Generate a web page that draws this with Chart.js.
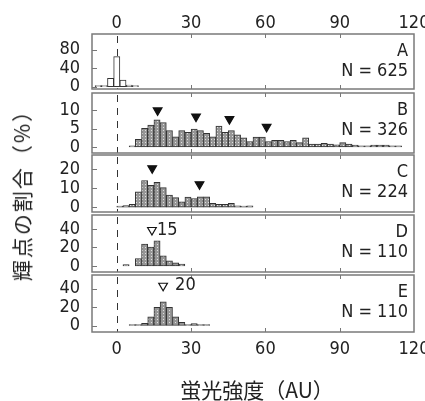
<!DOCTYPE html>
<html lang="ja">
<head>
<meta charset="UTF-8">
<title>蛍光強度の分布</title>
<script src="https://cdn.jsdelivr.net/npm/chart.js"></script>
<style>
  html, body { margin: 0; padding: 0; background: #fff; }
  #wrap { position: relative; width: 425px; height: 401px; overflow: hidden; }
  #wrap canvas { position: absolute; left: 0; top: 0; }
  .title {
    position: absolute;
    font-family: "Noto Sans CJK JP", sans-serif;
    font-size: 21px;
    color: #222;
    white-space: nowrap;
    transform: translate(-50%, -50%);
  }
  #ytitle { left: 21px; top: 190px; letter-spacing: 2px; transform: translate(-50%, -50%) rotate(-90deg); }
  #xtitle { left: 257px; top: 389px; }
</style>
</head>
<body>
<div id="wrap">
  <canvas id="pA" width="425" height="401"></canvas>
  <canvas id="pB" width="425" height="401"></canvas>
  <canvas id="pC" width="425" height="401"></canvas>
  <canvas id="pD" width="425" height="401"></canvas>
  <canvas id="pE" width="425" height="401"></canvas>
  <div class="title" id="ytitle">輝点の割合（%）</div>
  <div class="title" id="xtitle">蛍光強度（AU）</div>
</div>
<script>
// x軸の目盛り
const xTicks = [0, 30, 60, 90, 120];

// A (N = 625) ビン中心と割合(%)
const binsA = [-7.5, -5, -2.5, 0, 2.5, 5, 7.5];
const pctA = [0.3, 0.3, 18, 65, 14.5, 3.7, 0.8];
const yTicksA = [0, 40, 80];

// B (N = 326)
const binsB = [6.25, 8.75, 11.25, 13.75, 16.25, 18.75, 21.25, 23.75, 26.25, 28.75,
  31.25, 33.75, 36.25, 38.75, 41.25, 43.75, 46.25, 48.75, 51.25, 53.75,
  56.25, 58.75, 61.25, 63.75, 66.25, 68.75, 71.25, 73.75, 76.25, 78.75,
  81.25, 83.75, 86.25, 88.75, 91.25, 93.75, 96.25, 98.75, 101.25, 103.75,
  106.25, 108.75, 111.25, 113.75];
const pctB = [0.3, 2.1, 5.1, 6.0, 7.4, 6.7, 4.5, 2.8, 4.5, 4.0,
  4.9, 4.5, 3.7, 2.8, 5.7, 4.0, 4.5, 3.3, 2.5, 1.5,
  2.7, 2.7, 1.5, 1.8, 1.8, 1.5, 1.8, 1.2, 2.5, 0.8,
  0.8, 1.0, 0.8, 0.6, 1.2, 0.8, 0.5, 0.3, 0.3, 0.5,
  0.5, 0.5, 0.3, 0.3];
const yTicksB = [0, 5, 10];
const markXB = [16.5, 32, 45.5, 60.5];
const markYB = [10, 8.3, 7.6, 5.5];

// C (N = 224)
const binsC = [1.25, 3.75, 6.25, 8.75, 11.25, 13.75, 16.25, 18.75, 21.25, 23.75,
  26.25, 28.75, 31.25, 33.75, 36.25, 38.75, 41.25, 43.75, 46.25, 48.75,
  51.25, 53.75];
const pctC = [0.3, 0.8, 1.5, 8, 14, 11.5, 13, 10.2, 6.3, 5,
  2.8, 5.2, 4.5, 5.4, 5.4, 1.9, 1.4, 1.4, 1.9, 0.7,
  0.3, 0.7];
const yTicksC = [0, 10, 20];
const markXC = [14.3, 33.4];
const markYC = [20.4, 12];

// D (N = 110)
const binsD = [3.75, 8.75, 11.25, 13.75, 16.25, 18.75, 21.25, 23.75, 26.25];
const pctD = [1.5, 8, 23.5, 20.5, 27, 11, 5.5, 3.5, 2];
const yTicksD = [0, 20, 40];
const markXD = [14.2];
const markYD = [38.8];
const markLabelD = ['15'];

// E (N = 110)
const binsE = [6.25, 8.75, 11.25, 13.75, 16.25, 18.75, 21.25, 23.75, 26.25, 28.75,
  31.25, 33.75, 36.25];
const pctE = [0.5, 0.5, 2.5, 9.5, 19.7, 25.7, 19.7, 9.5, 3.5, 0.6, 2.2, 0.5, 0.5];
const yTicksE = [0, 20, 40];
const markXE = [18.7];
const markYE = [43];
const markLabelE = ['20'];

const FONT = '"Liberation Sans Narrow", "DejaVu Sans Condensed", "Noto Sans", sans-serif';
const TEXT = '#222';

function stipple() {
  const c = document.createElement('canvas');
  c.width = 3; c.height = 3;
  const g = c.getContext('2d');
  g.fillStyle = '#969696';
  g.fillRect(0, 0, 3, 3);
  g.fillStyle = '#e0e0e0';
  g.fillRect(1, 1, 1, 1);
  return g.createPattern(c, 'repeat');
}
const dots = stipple();

// 破線(x=0)、内向きの目盛り、枠、パネル文字
const panelDeco = {
  id: 'panelDeco',
  beforeDatasetsDraw(chart, args, o) {
    const { ctx, chartArea: a } = chart;
    const x = chart.scales.x, y = chart.scales.y;
    ctx.save();
    ctx.strokeStyle = '#333';
    ctx.lineWidth = 1;
    ctx.setLineDash([7, 6]);
    const x0 = Math.round(x.getPixelForValue(0)) + 0.5;
    ctx.beginPath();
    ctx.moveTo(x0, a.top + 2);
    ctx.lineTo(x0, a.bottom);
    ctx.stroke();
    ctx.setLineDash([]);
    ctx.strokeStyle = '#777';
    ctx.beginPath();
    xTicks.forEach(v => {
      if (v <= 0 || v >= 120) return;
      const px = Math.round(x.getPixelForValue(v)) + 0.5;
      ctx.moveTo(px, a.top);
      ctx.lineTo(px, a.top + 4);
      ctx.moveTo(px, a.bottom);
      ctx.lineTo(px, a.bottom - 4);
    });
    o.yTicks.forEach(v => {
      const py = Math.round(y.getPixelForValue(v)) + 0.5;
      ctx.moveTo(a.left, py);
      ctx.lineTo(a.left + 5, py);
    });
    ctx.stroke();
    ctx.restore();
  },
  afterDraw(chart, args, o) {
    const { ctx, chartArea: a } = chart;
    ctx.save();
    ctx.strokeStyle = '#7a7a7a';
    ctx.lineWidth = 1.5;
    ctx.strokeRect(a.left, a.top, a.right - a.left, a.bottom - a.top);

    ctx.font = '18px ' + FONT;
    ctx.fillStyle = TEXT;
    ctx.textAlign = 'right';
    ctx.textBaseline = 'middle';
    ctx.fillText(o.letter, a.right - 6, a.top + 17.5);
    ctx.fillText('N = ' + o.n, a.right - 6, a.top + 37.5);

    if (o.markLabels) {
      const meta = chart.getDatasetMeta(0);
      ctx.textAlign = 'left';
      o.markLabels.forEach((t, i) => {
        const pt = meta.data[i];
        ctx.fillText(t, pt.x + o.labelGap, pt.y);
      });
    }
    ctx.restore();
  }
};

const panels = [
  { id: 'pA', letter: 'A', n: 625, bins: binsA, pct: pctA, yTicks: yTicksA, yMin: -5, yMax: 114,
    markX: [], markY: [], open: true, axis: 'top', axisH: 30, axisPad: 0, padTop: 4, padBottom: 312 },
  { id: 'pB', letter: 'B', n: 326, bins: binsB, pct: pctB, yTicks: yTicksB, yMin: -1.64, yMax: 14.75,
    markX: markXB, markY: markYB, padTop: 93, padBottom: 248 },
  { id: 'pC', letter: 'C', n: 224, bins: binsC, pct: pctC, yTicks: yTicksC, yMin: -2.6, yMax: 27.4,
    markX: markXC, markY: markYC, padTop: 155, padBottom: 189 },
  { id: 'pD', letter: 'D', n: 110, bins: binsD, pct: pctD, yTicks: yTicksD, yMin: -6.5, yMax: 55,
    markX: markXD, markY: markYD, hollow: true, markLabels: markLabelD, labelGap: 5,
    padTop: 215, padBottom: 129 },
  { id: 'pE', letter: 'E', n: 110, bins: binsE, pct: pctE, yTicks: yTicksE, yMin: -7, yMax: 54.6,
    markX: markXE, markY: markYE, hollow: true, markLabels: markLabelE, labelGap: 12,
    axis: 'bottom', axisH: 30, axisPad: 7, padTop: 275, padBottom: 39 }
];

function makePanel(p) {
  const bars = p.bins.map((b, i) => ({ x: b, y: p.pct[i] }));
  const marks = p.markX.map((m, i) => ({ x: m, y: p.markY[i] }));
  return new Chart(document.getElementById(p.id), {
    type: 'bar',
    data: {
      datasets: [
        {
          type: 'scatter',
          data: marks,
          pointStyle: 'triangle',
          pointRotation: 180,
          pointRadius: 5,
          pointBackgroundColor: p.hollow ? '#fff' : '#111',
          pointBorderColor: '#111',
          pointBorderWidth: 1.2,
          order: 0
        },
        {
          data: bars,
          backgroundColor: p.open ? '#fff' : dots,
          borderColor: '#333',
          borderWidth: 1,
          borderSkipped: false,
          barPercentage: 1,
          categoryPercentage: 1,
          minBarLength: 1,
          order: 1
        }
      ]
    },
    options: {
      responsive: false,
      animation: false,
      devicePixelRatio: 1,
      layout: { padding: { left: 0, right: 11, top: p.padTop, bottom: p.padBottom } },
      plugins: {
        legend: { display: false },
        tooltip: { enabled: false },
        panelDeco: { letter: p.letter, n: p.n, yTicks: p.yTicks, markLabels: p.markLabels, labelGap: p.labelGap }
      },
      scales: {
        x: {
          type: 'linear',
          min: -10,
          max: 120,
          offset: false,
          position: p.axis || 'bottom',
          display: !!p.axis,
          grid: { display: false, drawTicks: false },
          border: { display: false },
          ticks: { padding: p.axisPad || 0, color: TEXT, font: { family: FONT, size: 18 } },
          afterBuildTicks: s => { s.ticks = xTicks.map(v => ({ value: v })); },
          afterFit: s => { s.height = p.axisH || 0; s.paddingLeft = 0; s.paddingRight = 0; }
        },
        y: {
          min: p.yMin,
          max: p.yMax,
          grid: { display: false, drawTicks: false },
          border: { display: false },
          ticks: { padding: 12, color: TEXT, font: { family: FONT, size: 18 } },
          afterBuildTicks: s => { s.ticks = p.yTicks.map(v => ({ value: v })); },
          afterFit: s => { s.width = 92; s.paddingTop = 0; s.paddingBottom = 0; }
        }
      }
    },
    plugins: [panelDeco]
  });
}

panels.forEach(makePanel);
</script>
</body>
</html>
